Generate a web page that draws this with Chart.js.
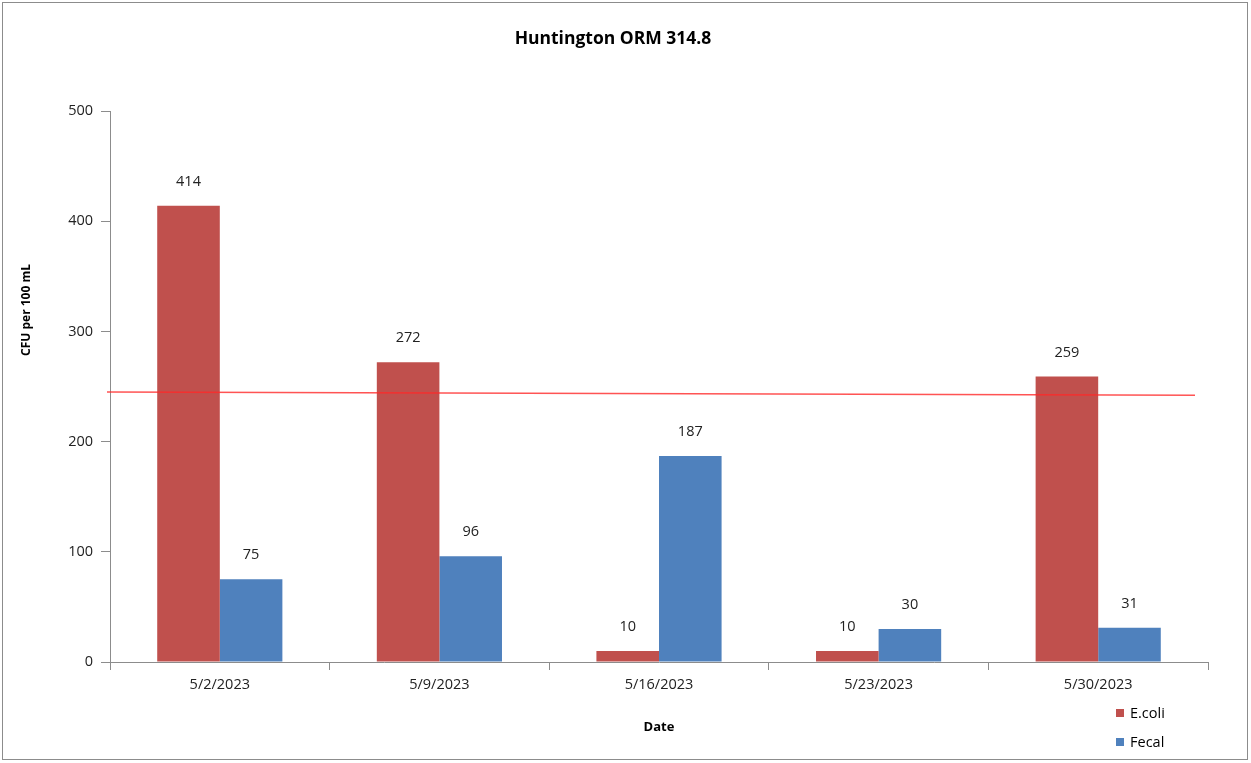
<!DOCTYPE html>
<html><head><meta charset="utf-8">
<script src="https://cdn.jsdelivr.net/npm/chart.js@4/dist/chart.umd.min.js"></script>
<style>
html,body{margin:0;padding:0;background:#fff;}
#wrap{position:relative;width:1251px;height:763px;font-family:"Open Sans","Liberation Sans",sans-serif;}
#frame{position:absolute;left:2px;top:2px;width:1246px;height:758px;border:1px solid #8c8c8c;box-sizing:border-box;pointer-events:none;}
#ytitle{position:absolute;left:25px;top:310px;transform:translate(-50%,-50%) rotate(-90deg);font-weight:bold;font-size:12px;color:#000;white-space:nowrap;}
#title{position:absolute;left:0;width:1226px;top:25px;text-align:center;font-weight:bold;font-size:17.5px;color:#000;}
#legend{position:absolute;left:1116px;top:698px;font-size:14.5px;color:#000;}
#legend div{height:29px;display:flex;align-items:center;}
#legend span.sw{display:inline-block;width:8px;height:8px;margin-right:6px;}
</style></head>
<body><div id="wrap">
<canvas id="c" width="1251" height="763"></canvas>
<div id="frame"></div>
<div id="title">Huntington ORM 314.8</div>
<div id="ytitle">CFU per 100 mL</div>
<div id="legend"><div><span class="sw" style="background:#C0504D"></span>E.coli</div><div><span class="sw" style="background:#4F81BD"></span>Fecal</div></div>
</div>
<script>
const categories = ["5/2/2023","5/9/2023","5/16/2023","5/23/2023","5/30/2023"];
const ecoli = [414, 272, 10, 10, 259];
const fecal = [75, 96, 187, 30, 31];
const yTicks = [0, 100, 200, 300, 400, 500];
const refLine = [245, 242]; // start and end values of the drawn red line

const FONT = '"Open Sans","Liberation Sans",sans-serif';

const labelPlugin = {
  id: 'labels',
  afterDatasetsDraw(chart) {
    const ctx = chart.ctx;
    ctx.save();
    ctx.font = '14.5px ' + FONT;
    ctx.fillStyle = '#222';
    ctx.textAlign = 'center';
    ctx.textBaseline = 'middle';
    chart.data.datasets.forEach((ds, i) => {
      chart.getDatasetMeta(i).data.forEach((bar, j) => {
        ctx.fillText(String(ds.data[j]), bar.x, bar.y - 24);
      });
    });
    // red reference line
    const y = chart.scales.y;
    const a = chart.chartArea;
    ctx.strokeStyle = 'rgba(255,40,40,0.8)';
    ctx.lineWidth = 1.5;
    ctx.beginPath();
    ctx.moveTo(a.left - 3, y.getPixelForValue(refLine[0]));
    ctx.lineTo(a.right - 13, y.getPixelForValue(refLine[1]));
    ctx.stroke();
    ctx.restore();
  }
};

new Chart(document.getElementById('c'), {
  type: 'bar',
  data: {
    labels: categories,
    datasets: [
      {label: 'E.coli', data: ecoli, backgroundColor: '#C0504D'},
      {label: 'Fecal', data: fecal, backgroundColor: '#4F81BD'}
    ]
  },
  options: {
    responsive: false,
    animation: false,
    devicePixelRatio: 1,
    layout: {padding: {top: 111, right: 43, left: 0, bottom: 0}},
    datasets: {bar: {categoryPercentage: 0.57, barPercentage: 1.0}},
    plugins: {legend: {display: false}, title: {display: false}, tooltip: {enabled: false}},
    scales: {
      x: {
        grid: {display: true, drawOnChartArea: false, offset: true, color: '#8c8c8c', tickLength: 8},
        border: {color: '#8c8c8c'},
        ticks: {color: '#222', font: {size: 14.5, family: FONT}, padding: 6, maxRotation: 0},
        title: {display: true, text: 'Date', color: '#000', font: {size: 13, weight: 'bold', family: FONT}, padding: {top: 4, bottom: 28}},
        afterFit(s) { s.height = 101; }
      },
      y: {
        min: 0, max: 500,
        afterBuildTicks(s) { s.ticks = yTicks.map(v => ({value: v})); },
        grid: {display: true, drawOnChartArea: false, color: '#8c8c8c', tickLength: 9},
        border: {color: '#8c8c8c'},
        ticks: {color: '#222', font: {size: 14.5, family: FONT}, padding: 8},
        afterFit(s) { s.width = 110; }
      }
    }
  },
  plugins: [labelPlugin]
});
</script>
</body></html>
